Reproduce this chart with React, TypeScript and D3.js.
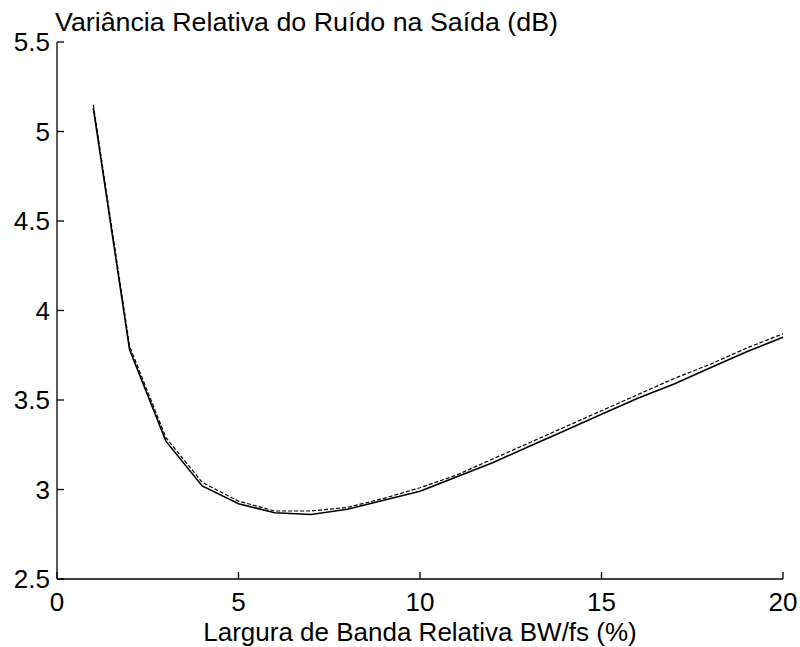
import React from "react";
import * as d3 from "d3";

// Relative bandwidth BW/fs (%)
const bandwidth = [1, 2, 3, 4, 5, 6, 7, 8, 9, 10, 11, 12, 13, 14, 15, 16, 17, 18, 19, 20];
// Relative output noise variance (dB), solid curve
const varianceSolid = [5.13, 3.78, 3.27, 3.02, 2.92, 2.87, 2.86, 2.89, 2.94, 2.99, 3.07, 3.15, 3.24, 3.33, 3.42, 3.51, 3.59, 3.68, 3.77, 3.85];
// Relative output noise variance (dB), dashed curve
const varianceDashed = [5.15, 3.8, 3.29, 3.04, 2.935, 2.88, 2.88, 2.9, 2.95, 3.01, 3.08, 3.17, 3.26, 3.35, 3.44, 3.53, 3.62, 3.7, 3.79, 3.87];

const xTicks = [0, 5, 10, 15, 20];
const yTicks = [2.5, 3, 3.5, 4, 4.5, 5, 5.5];

const titleText = "Variância Relativa do Ruído na Saída (dB)";
const xLabelText = "Largura de Banda Relativa BW/fs (%)";

const W = 800;
const H = 647;
const left = 57;
const right = 783;
const top = 42;
const bottom = 579;
const fs = 26;
const font = "Arial, 'Liberation Sans', Helvetica, sans-serif";

export default function App() {
  const x = d3.scaleLinear().domain([0, 20]).range([left, right]);
  const y = d3.scaleLinear().domain([2.5, 5.5]).range([bottom, top]);

  const line = d3
    .line<number>()
    .x((_, i) => x(bandwidth[i]))
    .y((d) => y(d));

  return (
    <svg
      width={W}
      height={H}
      style={{ position: "absolute", left: 0, top: 0, background: "#fff" }}
      fontFamily={font}
    >
      <rect x={0} y={0} width={W} height={H} fill="#fff" />
      {/* axes */}
      <line x1={left} y1={top} x2={left} y2={bottom} stroke="#000" strokeWidth={1.3} />
      <line x1={left} y1={bottom} x2={right} y2={bottom} stroke="#000" strokeWidth={1.3} />
      {yTicks.map((t) => (
        <g key={"y" + t}>
          <line x1={left} x2={left + 7} y1={y(t)} y2={y(t)} stroke="#000" strokeWidth={1.3} />
          <text x={left - 7} y={y(t) + fs * 0.36} textAnchor="end" fontSize={fs}>
            {String(t)}
          </text>
        </g>
      ))}
      {xTicks.map((t) => (
        <g key={"x" + t}>
          <line x1={x(t)} x2={x(t)} y1={bottom} y2={bottom - 7} stroke="#000" strokeWidth={1.3} />
          <text x={x(t)} y={611} textAnchor="middle" fontSize={fs}>
            {String(t)}
          </text>
        </g>
      ))}
      {/* curves */}
      <path d={line(varianceDashed) || ""} fill="none" stroke="#000" strokeWidth={1.2} strokeDasharray="4,2" />
      <path d={line(varianceSolid) || ""} fill="none" stroke="#000" strokeWidth={1.6} />
      {/* labels */}
      <text x={55} y={31} fontSize={fs} textLength={503} lengthAdjust="spacingAndGlyphs">
        {titleText}
      </text>
      <text x={(left + right) / 2} y={641} textAnchor="middle" fontSize={fs}>
        {xLabelText}
      </text>
    </svg>
  );
}
